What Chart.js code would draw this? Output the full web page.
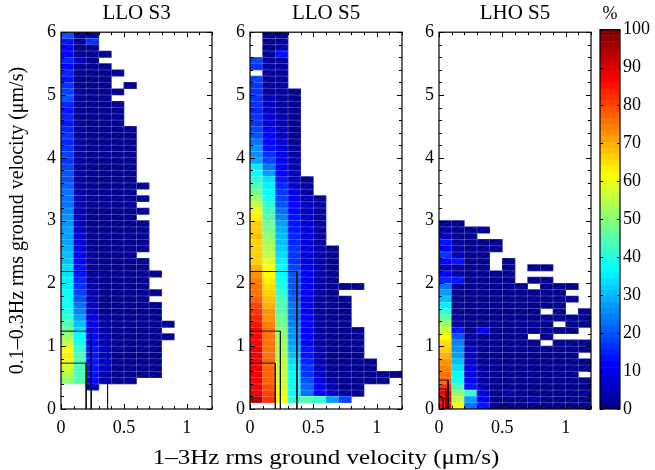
<!DOCTYPE html>
<html>
<head>
<meta charset="utf-8">
<script src="https://cdn.jsdelivr.net/npm/chart.js@4.4.0/dist/chart.umd.min.js"></script>
<style>
  body { margin: 0; background: #fff; }
  #wrap { position: relative; width: 655px; height: 470px; }
  canvas { position: absolute; top: 0; }
  #xtitle {
    position: absolute; left: 326px; top: 446px; transform: translateX(-50%) scaleX(1.25);
    font-family: 'Liberation Serif', 'Times New Roman', serif; font-size: 20px;
    line-height: 22px; white-space: nowrap; color: #000;
  }
</style>
</head>
<body>
<div id="wrap">
  <canvas id="p1" width="220" height="470" style="left:0px"></canvas>
  <canvas id="p2" width="190" height="470" style="left:220px"></canvas>
  <canvas id="p3" width="190" height="470" style="left:410px"></canvas>
  <canvas id="cb" width="65" height="470" style="left:590px"></canvas>
  <div id="xtitle"></div>
</div>
<script>
// bins: 0.1 wide in x (1-3Hz), 0.1 high in y (0.1-0.3Hz); rows listed top -> bottom, % values, null = no data
const binW = 0.1;
const binH = 0.1;

const panelTitles = ['LLO S3', 'LLO S5', 'LHO S5'];
const xTitle = '1\u20133Hz rms ground velocity (\u03bcm/s)';
const yTitle = '0.1\u20130.3Hz rms ground velocity (\u03bcm/s)';
const xTickLabels = [0, 0.5, 1];
const yTickLabels = [0, 1, 2, 3, 4, 5, 6];
const cbTickLabels = [0, 10, 20, 30, 40, 50, 60, 70, 80, 90, 100];

// LLO S3, first row is 5.9-6.0
const lloS3Top = 6.0;
const lloS3 = [
  [20, 2, 1],
  [14, 1, 16],
  [12, 1, 1],
  [11, 1, 1, 1],
  [15, 6, 1],
  [12, 1, 1, 1],
  [15, 1, 1, 1, 1],
  [14, 1, 1, 1],
  [17, 1, 1, 1, null, 1],
  [18, 2, 1, 1, 1],
  [19, 2, 1, 1],
  [15, 1, 1, 1, 1],
  [14, 1, 1, 1, 1],
  [15, 1, 1, 1, 1],
  [14, 2, 1, 1, 1],
  [15, 2, 1, 1, 1, 1],
  [16, 2, 1, 1, 1, 1],
  [15, 2, 1, 1, 1, 1],
  [17, 2, 1, 1, 1, 1],
  [18, 2, 1, 1, 1, 1],
  [17, 2, 1, 1, 1, 1],
  [18, 3, 1, 1, 1, 1],
  [19, 3, 1, 1, 1, 1],
  [20, 3, 1, 1, 1, 1],
  [21, 3, 1, 1, 1, 1, 1],
  [22, 3, 1, 1, 1, 1],
  [23, 4, 1, 1, 1, 1, 1],
  [23, 4, 1, 1, 1, 1],
  [24, 4, 1, 1, 1, 1, 1],
  [25, 5, 1, 1, 1, 1],
  [26, 5, 1, 1, 1, 1, 1],
  [27, 6, 1, 1, 1, 1, 1],
  [27, 7, 1, 1, 1, 1, 1],
  [28, 8, 1, 1, 1, 1, 1],
  [29, 9, 1, 1, 1, 1, 1],
  [30, 10, 2, 1, 1, 1],
  [31, 12, 2, 1, 1, 1, 1],
  [33, 13, 2, 1, 1, 1, 1],
  [34, 14, 3, 1, 1, 1, 1, 1],
  [35, 15, 3, 1, 1, 1, 1],
  [35, 16, 4, 1, 1, 1, 1],
  [36, 18, 4, 1, 1, 1, 1, 1],
  [36, 20, 5, 1, 1, 1, 1],
  [37, 22, 6, 1, 1, 1, 1, 1],
  [39, 24, 7, 1, 1, 1, 1, 1],
  [42, 27, 8, 2, 1, 1, 1, 1],
  [45, 30, 9, 3, 1, 1, 1, 1, 1],
  [48, 33, 10, 3, 1, 1, 1, 1],
  [52, 36, 11, 4, 1, 1, 1, 1, 1],
  [55, 38, 12, 4, 1, 1, 1, 1],
  [61, 41, 13, 5, 1, 1, 1, 1],
  [63, 43, 14, 5, 1, 1, 1, 1],
  [60, 44, 14, 5, 1, 1, 1, 1],
  [57, 43, 14, 5, 1, 1, 1, 1],
  [54, 44, 13, 4, 1, 1, 1, 1],
  [51, 45, 12, 4, 1, 1],
  [null, null, 6]
];

// LLO S5, first row is 5.9-6.0
const lloS5Top = 6.0;
const lloS5 = [
  [null, 1, 1],
  [null, 1, 2],
  [null, 1, 4],
  [null, 1, 14],
  [18, 2, 2],
  [17, 2, 2],
  [null, 2, 2],
  [18, 2, 2],
  [17, 3, 2],
  [16, 3, 2, 1],
  [17, 4, 2, 1],
  [16, 5, 3, 1],
  [15, 6, 3, 1],
  [16, 7, 4, 1],
  [17, 8, 4, 1],
  [18, 10, 5, 1],
  [20, 11, 6, 1],
  [22, 12, 7, 1],
  [25, 14, 8, 2],
  [26, 16, 9, 3],
  [28, 18, 10, 4],
  [35, 23, 11, 4],
  [36, 28, 12, 5],
  [40, 33, 13, 6, 1],
  [44, 35, 15, 7, 2],
  [47, 37, 16, 8, 2],
  [52, 39, 18, 10, 4, 1],
  [56, 41, 20, 11, 5, 2],
  [60, 43, 22, 12, 6, 2],
  [63, 45, 24, 13, 7, 2],
  [66, 47, 27, 13, 8, 3],
  [67, 48, 29, 14, 8, 3],
  [68, 50, 30, 15, 9, 3],
  [67, 52, 31, 15, 9, 3],
  [66, 54, 32, 16, 9, 4, 1],
  [66, 56, 33, 16, 9, 4, 1],
  [67, 59, 35, 17, 9, 4, 1],
  [70, 61, 36, 18, 10, 4, 1],
  [72, 62, 37, 19, 10, 4, 1],
  [74, 64, 38, 19, 10, 4, 1],
  [75, 65, 40, 20, 10, 3, 1, 1, 1],
  [76, 66, 42, 20, 10, 3, 1],
  [78, 68, 43, 21, 10, 3, 1, 1],
  [80, 70, 44, 22, 10, 3, 1, 1],
  [82, 72, 45, 22, 10, 3, 1, 1],
  [84, 73, 47, 23, 11, 3, 1, 1],
  [85, 74, 48, 24, 11, 3, 1, 1],
  [86, 75, 50, 25, 11, 3, 1, 1, 1],
  [87, 75, 51, 26, 12, 3, 1, 1, 1],
  [87, 75, 52, 27, 12, 3, 1, 1, 1],
  [88, 76, 53, 29, 13, 4, 1, 1, 1],
  [88, 76, 54, 31, 14, 4, 1, 1, 1],
  [88, 77, 55, 34, 15, 4, 1, 1, 1, 1],
  [88, 77, 55, 35, 16, 5, 1, 1, 1, 1],
  [88, 78, 56, 36, 17, 6, 1, 1, 1, 1, 1, 1],
  [88, 78, 57, 37, 19, 8, 2, 1, 1, 1, 1],
  [88, 79, 58, 37, 21, 10, 4, 1, 1],
  [89, 80, 60, 37, 23, 12, 6, 2, 1],
  [95, 82, 62, 40, 44, 42, 27, 18]
];

// LHO S5, first row is 2.9-3.0
const lhoS5Top = 3.0;
const lhoS5 = [
  [2, 1],
  [3, 1, 1, 1],
  [5, 1, 1],
  [14, 2, 1, 1, 1],
  [11, 2, 1, 1, 1],
  [17, 4, 1, 1],
  [11, 14, 1, 1, null, 1],
  [4, 2, 1, 1, null, 1, null, 1, 1],
  [12, 2, 1, 1, 1, 1],
  [15, 13, 1, 1, 1, 1, null, 1, 1],
  [22, 1, 1, 1, 1, 1, 1, null, 1, 1, 1],
  [27, 1, 1, 1, 1, 1, 1, 1, 1, 1],
  [31, 1, 1, 1, 1, 1, 1, 1, 1, 1, 1],
  [35, 1, 1, 1, 1, 1, 1, 1, 1, 1],
  [40, 1, 1, 1, 1, 1, 1, 1, null, 1, null, 1],
  [46, 2, 1, 1, 1, 1, 1, 1, 1, 1, 1, 1],
  [52, 3, 1, 1, 1, 1, 1, 1, 1, null, 1, 1],
  [57, 13, 1, 10, 1, 1, 1, 1, 1, 1, 1],
  [62, 20, 2, 1, 1, 1, 1, null, 1],
  [65, 24, 3, 1, 1, 1, 1, 1, null, 1, 1, 1],
  [67, 26, 5, 1, 1, 1, 1, 1, 1, 1, 1, 1],
  [69, 28, 6, 1, 1, 1, 1, 1, 1, 1, 1],
  [72, 30, 7, 1, 1, 1, 1, 1, 1, 1, 1, 1],
  [74, 34, 8, 2, 1, 1, 1, 1, 1, 1, 1, 1],
  [76, 36, 9, 2, 1, 1, 1, 1, 1, 1, 1],
  [78, 38, 11, 3, 1, 1, 1, 1, 1, 1, 1, 1],
  [82, 43, 14, 4, 1, 1, 1, 1, 1, 1, 1, 1],
  [86, 50, 42, 8, 1, 4, 1, 1, 1, 1, 1, 1],
  [88, 55, 28, 11, 1, 1, 1, 4, 1, 1, 1, 1],
  [86, 60, 22, 14, 1, 1, 1, 1, 1, 1, 1, 1]
];

// outline boxes: [x right edge, y top edge], all start at the origin
const lloBoxes = [[0.2, 0.73], [0.24, 1.24], [0.37, 2.19]];
const lhoBoxes = [[0.072, 0.46], [0.053, 0.32], [0.034, 0.18]];

const serif = "'Liberation Serif', 'Times New Roman', serif";
Chart.defaults.font.family = serif;
Chart.defaults.color = '#000';
Chart.defaults.animation = false;

document.getElementById('xtitle').textContent = xTitle;

// matlab jet(64)
function jetColor(p) {
  const k = Math.min(64, Math.floor(p / 100 * 64) + 1);
  const u = i => i < 1 ? 0 : i <= 16 ? i / 16 : i <= 31 ? 1 : i <= 47 ? (48 - i) / 16 : 0;
  const r = k >= 25 ? u(k - 24) : 0;
  const g = k >= 9 && k <= 55 ? u(k - 8) : 0;
  const b = k <= 39 ? u(k + 8) : 0;
  return 'rgb(' + Math.round(r * 255) + ',' + Math.round(g * 255) + ',' + Math.round(b * 255) + ')';
}

function toCells(rows, top) {
  const out = [];
  rows.forEach((row, r) => {
    const y1 = +(top - r * binH).toFixed(2);
    row.forEach((v, c) => {
      if (v === null) return;
      out.push({ x: +((c + 0.5) * binW).toFixed(3), y: [+(y1 - binH).toFixed(2), y1], v: v });
    });
  });
  return out;
}

const near = (v, step) => Math.abs(v / step - Math.round(v / step)) < 1e-6;

// faint mesh lines over each cell, like the original surface render
const meshPlugin = {
  id: 'mesh',
  afterDatasetDraw(chart, args) {
    if (args.meta.type !== 'bar') return;
    const { ctx, chartArea: a } = chart;
    ctx.save();
    ctx.beginPath();
    ctx.rect(a.left, a.top, a.right - a.left, a.bottom - a.top);
    ctx.clip();
    ctx.lineWidth = 0.7;
    args.meta.data.forEach(el => {
      const p = el.getProps(['x', 'y', 'base', 'width'], true);
      const l = p.x - p.width / 2, r = p.x + p.width / 2;
      const t = Math.min(p.y, p.base), b = Math.max(p.y, p.base);
      ctx.strokeStyle = 'rgba(255,255,255,0.18)';
      ctx.strokeRect(l, t, r - l, b - t);
      ctx.strokeStyle = 'rgba(255,255,255,0.12)';
      ctx.beginPath();
      ctx.moveTo(l, b);
      ctx.lineTo(r, t);
      ctx.stroke();
    });
    ctx.restore();
  }
};

// box frame with inward ticks on all four sides
const framePlugin = {
  id: 'frame',
  afterDraw(chart) {
    const { ctx, chartArea: a } = chart;
    const xs = chart.scales.x, ys = chart.scales.y;
    ctx.save();
    ctx.strokeStyle = '#000';
    ctx.lineWidth = 1;
    ctx.beginPath();
    xs.ticks.forEach(t => {
      const px = Math.round(xs.getPixelForValue(t.value)) + 0.5;
      const len = near(t.value, 0.5) ? 5 : 3;
      ctx.moveTo(px, a.bottom); ctx.lineTo(px, a.bottom - len);
      ctx.moveTo(px, a.top); ctx.lineTo(px, a.top + len);
    });
    ys.ticks.forEach(t => {
      const py = Math.round(ys.getPixelForValue(t.value)) + 0.5;
      const len = near(t.value, 1) ? 5 : 3;
      ctx.moveTo(a.left, py); ctx.lineTo(a.left + len, py);
      ctx.moveTo(a.right, py); ctx.lineTo(a.right - len, py);
    });
    ctx.stroke();
    ctx.lineWidth = 1.2;
    ctx.strokeRect(a.left, a.top, a.right - a.left, a.bottom - a.top);
    ctx.restore();
  }
};

function makePanel(id, title, rows, top, boxes, yWidth, padRight, showYTitle) {
  const boxSets = boxes.map(b => ({
    type: 'line',
    data: [{ x: 0, y: b[1] }, { x: b[0], y: b[1] }, { x: b[0], y: 0 }],
    borderColor: '#111',
    borderWidth: 1,
    pointRadius: 0,
    fill: false,
    tension: 0,
    order: 0
  }));
  new Chart(document.getElementById(id), {
    type: 'bar',
    data: {
      datasets: boxSets.concat([{
        data: toCells(rows, top),
        backgroundColor: c => c.raw ? jetColor(c.raw.v) : '#000',
        borderWidth: 0,
        barPercentage: 1,
        categoryPercentage: 1,
        order: 1
      }])
    },
    options: {
      responsive: false,
      devicePixelRatio: 1,
      layout: { padding: { left: 0, right: padRight, top: 0, bottom: 0 } },
      plugins: {
        legend: { display: false },
        tooltip: { enabled: false },
        title: {
          display: true, text: title, fullSize: false,
          font: { size: 21, weight: 'normal' },
          padding: { top: 1, bottom: 6 }
        }
      },
      scales: {
        x: {
          type: 'linear', min: 0, max: 1.2, offset: false,
          grid: { display: false, drawTicks: false },
          border: { display: false },
          ticks: {
            stepSize: 0.1, autoSkip: false, maxRotation: 0, padding: 8,
            font: { size: 18 },
            callback: v => xTickLabels.some(t => Math.abs(t - v) < 1e-6) ? String(Math.round(v * 10) / 10) : ''
          },
          afterFit: s => { s.height = 61; }
        },
        y: {
          type: 'linear', min: 0, max: 6,
          grid: { display: false, drawTicks: false },
          border: { display: false },
          ticks: {
            stepSize: 0.2, autoSkip: false, padding: 5,
            font: { size: 18 },
            callback: v => yTickLabels.some(t => Math.abs(t - v) < 1e-6) ? String(Math.round(v)) : ''
          },
          title: showYTitle ? {
            display: true, text: yTitle,
            font: { size: 20 }, padding: { top: 6, bottom: 0 }
          } : { display: false },
          afterFit: s => { s.width = yWidth; }
        }
      }
    },
    plugins: [meshPlugin, framePlugin]
  });
}

makePanel('p1', panelTitles[0], lloS3, lloS3Top, lloBoxes, 61, 8, true);
makePanel('p2', panelTitles[1], lloS5, lloS5Top, lloBoxes, 30, 8, false);
makePanel('p3', panelTitles[2], lhoS5, lhoS5Top, lhoBoxes, 29, 9, false);

// colour bar
const cbFrame = {
  id: 'cbFrame',
  afterDraw(chart) {
    const { ctx, chartArea: a } = chart;
    const ys = chart.scales.y;
    ctx.save();
    ctx.strokeStyle = '#000';
    ctx.lineWidth = 1;
    ctx.beginPath();
    ys.ticks.forEach(t => {
      const py = Math.round(ys.getPixelForValue(t.value)) + 0.5;
      ctx.moveTo(a.right, py); ctx.lineTo(a.right - 3, py);
      ctx.moveTo(a.left, py); ctx.lineTo(a.left + 3, py);
    });
    ctx.stroke();
    ctx.lineWidth = 1.2;
    ctx.strokeRect(a.left, a.top, a.right - a.left, a.bottom - a.top);
    ctx.restore();
  }
};

const cbLevels = Array.from({ length: 64 }, (_, i) => i);
new Chart(document.getElementById('cb'), {
  type: 'bar',
  data: {
    labels: [''],
    datasets: cbLevels.map(i => ({
      data: [100 / 64],
      backgroundColor: jetColor((i + 0.5) * 100 / 64),
      borderWidth: 0,
      barPercentage: 1,
      categoryPercentage: 1
    }))
  },
  options: {
    responsive: false,
    devicePixelRatio: 1,
    layout: { padding: { left: 10, right: 0, top: 0, bottom: 61 } },
    plugins: {
      legend: { display: false },
      tooltip: { enabled: false },
      title: {
        display: true, text: '%', fullSize: false,
        font: { size: 18, weight: 'normal' },
        padding: { top: 3, bottom: 5 }
      }
    },
    scales: {
      x: { display: false, stacked: true },
      y: {
        position: 'right', stacked: true, min: 0, max: 100,
        grid: { display: false, drawTicks: false },
        border: { display: false },
        ticks: {
          stepSize: 10, padding: 3, font: { size: 18 },
          callback: v => cbTickLabels.includes(Math.round(v)) ? String(Math.round(v)) : ''
        },
        afterFit: s => { s.width = 35; }
      }
    }
  },
  plugins: [cbFrame]
});
</script>
</body>
</html>
